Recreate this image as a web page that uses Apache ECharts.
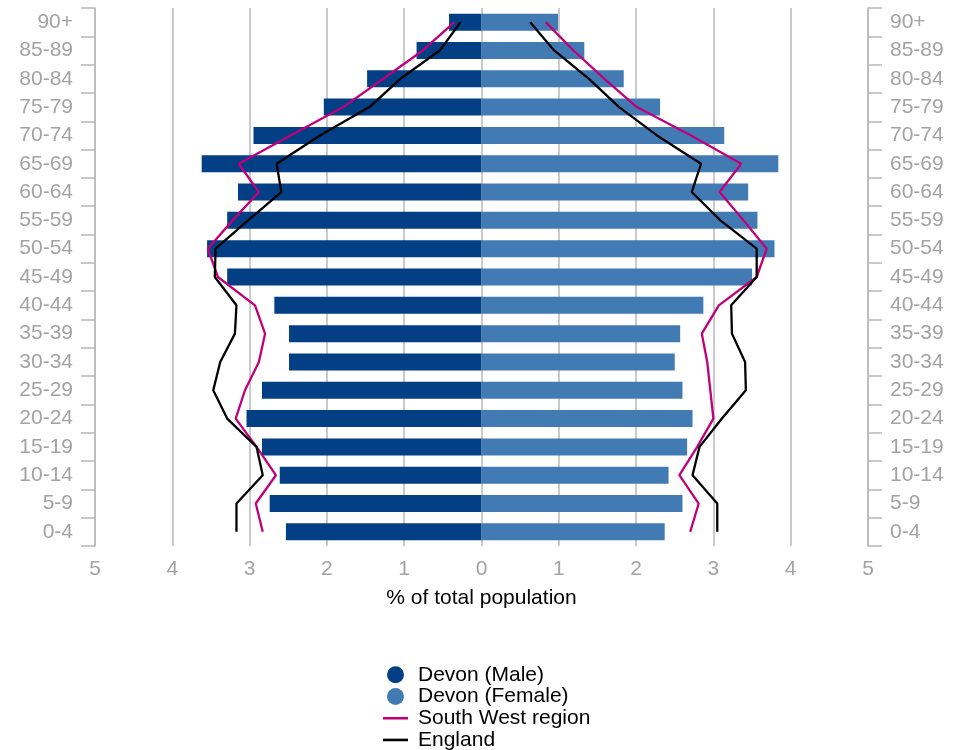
<!DOCTYPE html>
<html>
<head>
<meta charset="utf-8">
<script src="https://cdn.jsdelivr.net/npm/echarts@6/dist/echarts.min.js"></script>
<style>html,body{margin:0;padding:0;background:#fff}#c{width:966px;height:750px}</style>
</head>
<body>
<div id="c"></div>
<script>
// Age bands, bottom to top
var ageBands = ['0-4','5-9','10-14','15-19','20-24','25-29','30-34','35-39','40-44','45-49','50-54','55-59','60-64','65-69','70-74','75-79','80-84','85-89','90+'];
// % of total population
var devonMale   = [2.53, 2.74, 2.61, 2.84, 3.04, 2.84, 2.49, 2.49, 2.68, 3.29, 3.55, 3.29, 3.15, 3.62, 2.95, 2.04, 1.48, 0.84, 0.42];
var devonFemale = [2.37, 2.60, 2.42, 2.66, 2.73, 2.60, 2.50, 2.57, 2.87, 3.50, 3.79, 3.57, 3.45, 3.84, 3.14, 2.31, 1.84, 1.33, 0.99];
var swMale      = [2.83, 2.92, 2.66, 2.91, 3.18, 3.06, 2.88, 2.80, 2.93, 3.41, 3.54, 3.22, 2.88, 3.14, 2.47, 1.79, 1.27, 0.76, 0.35];
var swFemale    = [2.70, 2.81, 2.56, 2.79, 3.00, 2.96, 2.92, 2.85, 3.07, 3.56, 3.69, 3.39, 3.08, 3.36, 2.71, 2.01, 1.59, 1.19, 0.83];
var engMale     = [3.17, 3.17, 2.83, 2.91, 3.29, 3.47, 3.38, 3.19, 3.17, 3.45, 3.44, 3.02, 2.59, 2.65, 2.09, 1.45, 1.05, 0.54, 0.27];
var engFemale   = [3.05, 3.05, 2.73, 2.82, 3.11, 3.42, 3.41, 3.24, 3.23, 3.56, 3.56, 3.09, 2.72, 2.84, 2.27, 1.78, 1.39, 0.94, 0.63];
var xTicks = [-5,-4,-3,-2,-1,0,1,2,3,4,5];

var neg = function (arr) { return arr.map(function (v) { return -v; }); };

var gray = '#a3a3a3';
var lineGray = '#b8b8b8';
var font = 'Liberation Sans, Arial, sans-serif';
var lineIcon = 'path://M0,0L25,0L25,2.6L0,2.6Z';

var chart = echarts.init(document.getElementById('c'));
function yAx(pos) {
  return {
    type: 'category',
    position: pos,
    data: ageBands,
    boundaryGap: true,
    axisLine: { show: true, onZero: false, lineStyle: { color: lineGray, width: 1.5 } },
    axisTick: { show: true, length: 14, inside: false, lineStyle: { color: lineGray, width: 1.5 } },
    axisLabel: { color: gray, fontSize: 21, fontFamily: font, margin: 22, interval: 0 },
    splitLine: { show: false }
  };
}
chart.setOption({
  animation: false,
  grid: { left: 95, right: 98, top: 8, bottom: 204, containLabel: false },
  xAxis: {
    type: 'value',
    min: xTicks[0], max: xTicks[xTicks.length - 1], interval: 1,
    axisLine: { show: false },
    axisTick: { show: false },
    axisLabel: { color: gray, fontSize: 21, fontFamily: font, margin: 13,
      formatter: function (v) { return String(Math.abs(v)); } },
    splitLine: { show: true, lineStyle: { color: lineGray, width: 1.5 } },
    name: '% of total population',
    nameLocation: 'middle',
    nameGap: 42,
    nameTextStyle: { color: '#000', fontSize: 21, fontFamily: font }
  },
  yAxis: [yAx('left'), yAx('right')],
  legend: {
    orient: 'vertical',
    left: 383,
    top: 664,
    width: 300,
    height: 120,
    itemWidth: 25,
    itemHeight: 17,
    itemGap: 0,
    padding: 0,
    symbolKeepAspect: true,
    textStyle: { color: '#000', fontSize: 21, fontFamily: font, lineHeight: 21.7, padding: [0,0,0,5] },
    data: [
      { name: 'Devon (Male)', icon: 'circle' },
      { name: 'Devon (Female)', icon: 'circle' },
      { name: 'South West region', icon: lineIcon },
      { name: 'England', icon: lineIcon }
    ]
  },
  series: [
    { name: 'Devon (Male)', type: 'bar', yAxisIndex: 0, data: neg(devonMale), barWidth: 17, barGap: '-100%',
      itemStyle: { color: '#033f84' }, z: 2 },
    { name: 'Devon (Female)', type: 'bar', yAxisIndex: 0, data: devonFemale, barWidth: 17, barGap: '-100%',
      itemStyle: { color: '#427bb4' }, z: 2 },
    { name: 'South West region', type: 'line', yAxisIndex: 0, data: neg(swMale), symbol: 'none',
      lineStyle: { color: '#c0007a', width: 2.3 }, itemStyle: { color: '#c0007a' }, z: 4 },
    { name: 'South West region', type: 'line', yAxisIndex: 0, data: swFemale, symbol: 'none',
      lineStyle: { color: '#c0007a', width: 2.3 }, itemStyle: { color: '#c0007a' }, z: 4 },
    { name: 'England', type: 'line', yAxisIndex: 0, data: neg(engMale), symbol: 'none',
      lineStyle: { color: '#000', width: 2.3 }, itemStyle: { color: '#000' }, z: 5 },
    { name: 'England', type: 'line', yAxisIndex: 0, data: engFemale, symbol: 'none',
      lineStyle: { color: '#000', width: 2.3 }, itemStyle: { color: '#000' }, z: 5 }
  ]
});
</script>
</body>
</html>
